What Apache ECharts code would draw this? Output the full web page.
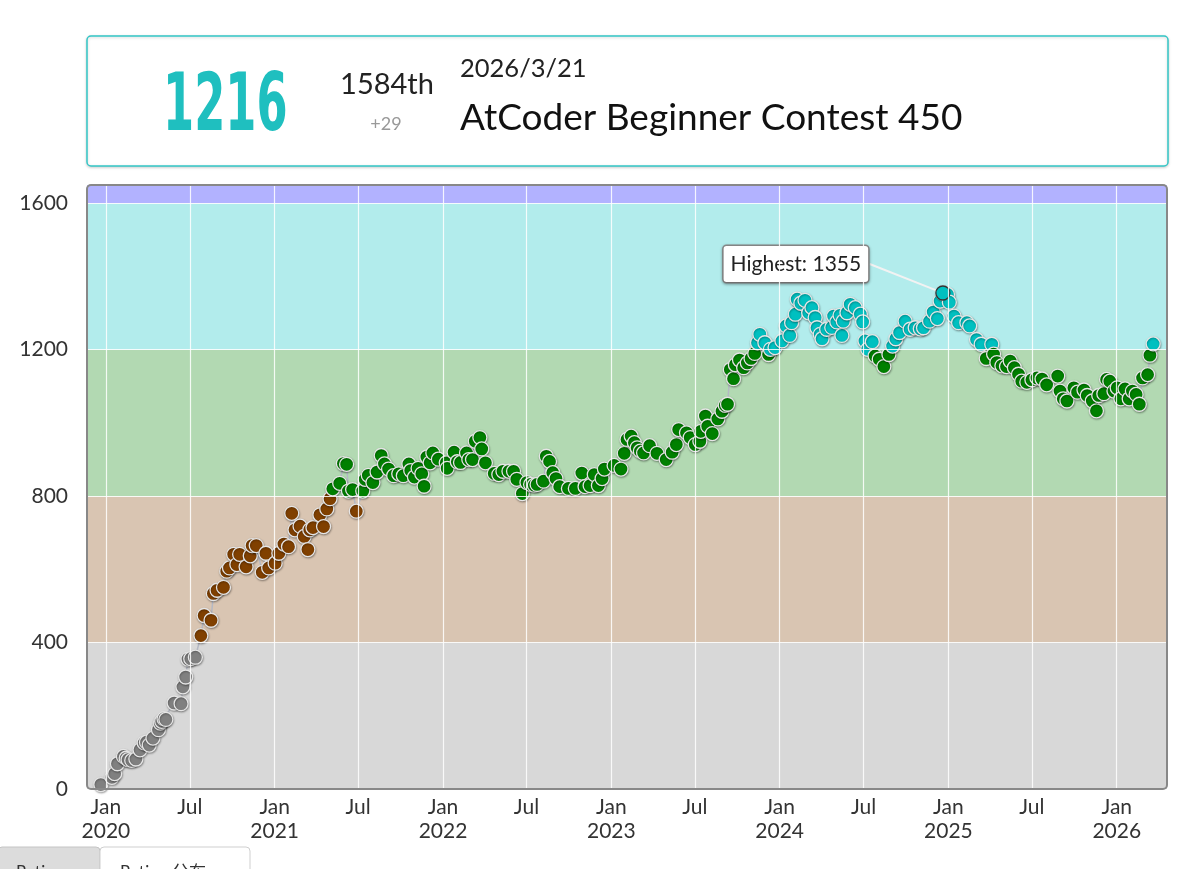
<!DOCTYPE html>
<html><head><meta charset="utf-8">
<script src="https://cdn.jsdelivr.net/npm/echarts@6/dist/echarts.min.js"></script>
<style>html,body{margin:0;padding:0;background:#fff;}#c{width:1200px;height:869px;}</style>
</head><body><div id="c"></div>
<script>
// ---- data ----
const contestDates = [
'2019-12-21','2020-01-14','2020-01-20','2020-01-26','2020-02-08','2020-02-14','2020-02-18','2020-02-26','2020-03-06','2020-03-15',
'2020-03-24','2020-03-29','2020-04-04','2020-04-12','2020-04-24','2020-04-28','2020-05-01','2020-05-06','2020-05-10','2020-05-28',
'2020-06-12','2020-06-16','2020-06-22','2020-06-27','2020-07-03','2020-07-13','2020-07-25','2020-08-01','2020-08-16','2020-08-21',
'2020-08-29','2020-09-12','2020-09-19','2020-09-25','2020-10-04','2020-10-11','2020-10-17','2020-10-31','2020-11-09','2020-11-13',
'2020-11-22','2020-12-05','2020-12-13','2020-12-19','2021-01-02','2021-01-10','2021-01-21','2021-01-31','2021-02-07','2021-02-14',
'2021-02-25','2021-03-06','2021-03-14','2021-03-18','2021-03-25','2021-04-09','2021-04-17','2021-04-24','2021-05-01','2021-05-07',
'2021-05-22','2021-05-30','2021-06-06','2021-06-10','2021-06-19','2021-06-27','2021-07-11','2021-07-16','2021-07-23','2021-08-02',
'2021-08-11','2021-08-20','2021-08-27','2021-09-05','2021-09-16','2021-09-27','2021-10-07','2021-10-19','2021-10-23','2021-10-31',
'2021-11-08','2021-11-16','2021-11-21','2021-11-27','2021-12-04','2021-12-10','2021-12-22','2022-01-08','2022-01-10','2022-01-25',
'2022-02-01','2022-02-08','2022-02-21','2022-02-26','2022-03-06','2022-03-12','2022-03-22','2022-03-26','2022-04-03','2022-04-22',
'2022-05-02','2022-05-11','2022-05-24','2022-06-03','2022-06-10','2022-06-22','2022-07-02','2022-07-10','2022-07-18','2022-07-24',
'2022-08-07','2022-08-13','2022-08-20','2022-08-27','2022-09-03','2022-09-11','2022-09-30','2022-10-15','2022-10-29','2022-11-05',
'2022-11-16','2022-11-25','2022-12-04','2022-12-12','2022-12-17','2023-01-07','2023-01-22','2023-01-29','2023-02-04','2023-02-13',
'2023-02-20','2023-02-26','2023-03-05','2023-03-12','2023-03-25','2023-04-10','2023-04-30','2023-05-13','2023-05-22','2023-05-27',
'2023-06-13','2023-06-21','2023-07-02','2023-07-12','2023-07-14','2023-07-24','2023-07-29','2023-08-08','2023-08-20','2023-08-29',
'2023-09-05','2023-09-10','2023-09-16','2023-09-23','2023-09-27','2023-10-06','2023-10-15','2023-10-23','2023-10-31','2023-11-08',
'2023-11-14','2023-11-19','2023-11-30','2023-12-08','2023-12-12','2023-12-22','2024-01-06','2024-01-15','2024-01-23','2024-01-27',
'2024-02-04','2024-02-08','2024-02-16','2024-02-25','2024-03-04','2024-03-11','2024-03-18','2024-03-22','2024-03-29','2024-04-02',
'2024-04-12','2024-04-23','2024-04-27','2024-05-04','2024-05-11','2024-05-15','2024-05-18','2024-05-26','2024-06-02','2024-06-13',
'2024-06-24','2024-06-29','2024-07-04','2024-07-10','2024-07-20','2024-07-26','2024-08-04','2024-08-14','2024-08-25','2024-09-02',
'2024-09-09','2024-09-17','2024-09-29','2024-10-10','2024-10-21','2024-11-01','2024-11-08','2024-11-21','2024-11-29','2024-12-08',
'2024-12-14','2024-12-20','2024-12-30','2025-01-03','2025-01-13','2025-01-23','2025-02-10','2025-02-16','2025-03-03','2025-03-13',
'2025-03-24','2025-04-05','2025-04-09','2025-04-16','2025-04-27','2025-05-07','2025-05-15','2025-05-24','2025-06-02','2025-06-09',
'2025-06-20','2025-07-01','2025-07-12','2025-07-23','2025-08-02','2025-08-26','2025-08-31','2025-09-07','2025-09-15','2025-09-30',
'2025-10-08','2025-10-22','2025-10-29','2025-11-09','2025-11-18','2025-11-23','2025-12-04','2025-12-10','2025-12-17','2025-12-26',
'2026-01-02','2026-01-10','2026-01-19','2026-01-28','2026-02-04','2026-02-12','2026-02-19','2026-02-26','2026-03-09','2026-03-14',
'2026-03-21'];
const ratings = [
12,32,42,69,89,84,80,78,82,107,
126,128,120,139,162,180,185,192,190,235,
233,279,306,355,356,360,419,474,461,534,
543,551,595,604,641,613,641,607,637,665,
665,592,644,604,617,644,669,662,753,708,
718,690,654,708,714,749,717,765,793,820,
835,889,887,814,818,759,814,846,857,837,
866,911,888,874,856,861,856,888,870,852,
876,861,827,907,891,918,901,891,876,920,
894,892,918,900,900,950,960,929,891,862,
859,868,868,868,846,807,837,832,830,832,
841,909,895,864,848,826,821,821,863,826,
829,859,829,848,874,884,874,917,955,964,
946,932,923,918,938,917,900,920,941,982,
973,960,941,950,977,1019,991,971,1011,1032,
1048,1051,1146,1121,1159,1172,1151,1164,1176,1190,
1219,1242,1219,1187,1201,1206,1224,1265,1239,1274,
1297,1338,1327,1335,1301,1315,1288,1260,1242,1230,
1256,1261,1292,1276,1294,1239,1278,1301,1324,1315,
1297,1276,1224,1201,1222,1183,1174,1154,1187,1210,
1230,1247,1278,1256,1260,1257,1260,1278,1303,1285,
1333,1355,1351,1330,1292,1274,1274,1265,1228,1215,
1176,1215,1188,1165,1156,1154,1169,1151,1133,1114,
1111,1118,1123,1120,1104,1128,1087,1066,1060,1096,
1084,1090,1075,1060,1033,1075,1080,1119,1114,1087,
1096,1066,1093,1066,1087,1078,1051,1123,1132,1185,
1216];
const highestDate = '2024-12-20';
const highestRating = 1355;
const tickDates = ['2020-01-01','2020-07-01','2021-01-01','2021-07-01','2022-01-01','2022-07-01','2023-01-01','2023-07-01','2024-01-01','2024-07-01','2025-01-01','2025-07-01','2026-01-01'];
const tickLabels = ['Jan\n2020','Jul','Jan\n2021','Jul','Jan\n2022','Jul','Jan\n2023','Jul','Jan\n2024','Jul','Jan\n2025','Jul','Jan\n2026'];
const yTicks = [0,400,800,1200,1600];
const rankBounds = [0,400,800,1200,1600,2000];
const rankBandColors = ['#D8D8D8','#D9C5B2','#B2D9B2','#B2ECEC','#B2B2FF'];
const rankDotColors = ['#808080','#804000','#008000','#00C0C0','#0000FF'];

// ---- build ----
const FONT = 'Lato, "Noto Sans", sans-serif';
const ts = d => Date.parse(d + 'T00:00:00Z');
const tickTs = tickDates.map(ts);
const colorFor = r => { for (let i = rankBounds.length - 2; i >= 0; i--) if (r >= rankBounds[i]) return rankDotColors[i]; return rankDotColors[0]; };
const pts = contestDates.map((d, i) => [ts(d), ratings[i]]);
const dotData = pts.map(p => ({ value: p, itemStyle: { color: colorFor(p[1]) } }));

const bands = [];
for (let i = 0; i < rankBandColors.length; i++) {
  bands.push([{ yAxis: rankBounds[i], itemStyle: { color: rankBandColors[i] } }, { yAxis: Math.min(rankBounds[i + 1], 1650) }]);
}
const gridLines = tickTs.map(t => ({ xAxis: t }))
  .concat(yTicks.slice(1).map(v => ({ yAxis: v })));

const chart = echarts.init(document.getElementById('c'), null, { renderer: 'canvas' });
chart.setOption({
  animation: false,
  textStyle: { fontFamily: FONT },
  grid: { left: 87, top: 185, width: 1080, height: 604, show: false },
  xAxis: {
    type: 'value', min: ts('2019-11-21'), max: ts('2026-04-20'),
    axisLine: { show: false }, axisTick: { show: false }, splitLine: { show: false },
    axisLabel: {
      customValues: tickTs,
      formatter: v => { const i = tickTs.indexOf(v); return i >= 0 ? tickLabels[i] : ''; },
      color: '#333', fontSize: 21, lineHeight: 24, margin: 6, fontFamily: FONT,
      showMinLabel: true, showMaxLabel: true
    }
  },
  yAxis: {
    type: 'value', min: 0, max: 1650, interval: 400,
    axisLine: { show: false }, axisTick: { show: false }, splitLine: { show: false },
    axisLabel: {
      customValues: yTicks,
      formatter: v => (yTicks.indexOf(v) >= 0 ? String(v) : ''),
      color: '#333', fontSize: 21, margin: 19, fontFamily: FONT
    }
  },
  series: [
    { type: 'line', data: [], z: 0, silent: true,
      markArea: { silent: true, data: bands } },
    { type: 'line', data: [], z: 1, silent: true,
      markLine: { silent: true, symbol: ['none', 'none'], label: { show: false },
        lineStyle: { color: 'rgba(255,255,255,0.85)', width: 1.2, type: 'solid' }, data: gridLines } },
    { type: 'line', data: pts, z: 2, showSymbol: false, silent: true,
      lineStyle: { color: '#b4b8c4', width: 1.5 } },
    { type: 'scatter', data: dotData, z: 3, symbolSize: 14,
      itemStyle: { opacity: 1, borderColor: '#e6e6e6', borderWidth: 1.3, shadowBlur: 2, shadowColor: 'rgba(0,0,0,0.35)', shadowOffsetX: 0.5, shadowOffsetY: 1 } },
    { type: 'scatter', z: 4, symbolSize: 14,
      data: [{ value: [ts(highestDate), highestRating], itemStyle: { color: colorFor(highestRating) } }],
      itemStyle: { opacity: 1, borderColor: '#333', borderWidth: 1.3 },
      label: { show: true, position: 'inside', formatter: 'Highest: ' + highestRating,
        color: '#222', fontSize: 21, fontFamily: FONT, backgroundColor: '#fff',
        borderColor: '#8a8a8a', borderWidth: 1.5, borderRadius: 3, padding: [8, 7, 7, 7],
        shadowBlur: 3, shadowColor: 'rgba(0,0,0,0.3)', shadowOffsetY: 1 },
      labelLayout: { dx: -147, dy: -29 },
      labelLine: { show: true, lineStyle: { color: '#f2f2f2', width: 2 } } }
  ],
  graphic: [
    { type: 'rect', z: 100, silent: true, shape: { x: 87, y: 185, width: 1080, height: 604, r: 4 },
      style: { fill: 'none', stroke: '#888', lineWidth: 2 } },
    { type: 'rect', z: 10, silent: true, shape: { x: 87, y: 36, width: 1081, height: 130, r: 4 },
      style: { fill: '#fff', stroke: '#33c6c6', lineWidth: 1.5, shadowBlur: 3, shadowColor: 'rgba(0,0,0,0.18)', shadowOffsetY: 1 } },
    { type: 'text', z: 11, x: 163, y: 109, scaleX: 0.56, silent: true,
      style: { text: '1216', x: 0, y: 0, font: 'bold 80px "DejaVu Sans"', fill: '#1fbfbf', verticalAlign: 'middle', align: 'left' } },
    { type: 'text', z: 11, x: 387, y: 85, silent: true,
      style: { text: '1584th', font: '29px ' + FONT, fill: '#222', align: 'center', verticalAlign: 'middle' } },
    { type: 'text', z: 11, x: 386, y: 124, silent: true,
      style: { text: '+29', font: '18px ' + FONT, fill: '#999', align: 'center', verticalAlign: 'middle' } },
    { type: 'text', z: 11, x: 460, y: 69, silent: true,
      style: { text: '2026/3/21', font: '25.5px ' + FONT, fill: '#222', align: 'left', verticalAlign: 'middle' } },
    { type: 'text', z: 11, x: 460, y: 118, silent: true,
      style: { text: 'AtCoder Beginner Contest 450', font: '37px ' + FONT, fill: '#111', align: 'left', verticalAlign: 'middle' } },
    { type: 'rect', z: 10, silent: true, shape: { x: -2, y: 847, width: 102, height: 40, r: [4, 4, 0, 0] },
      style: { fill: '#dcdcdc', stroke: '#c4c4c4', lineWidth: 1 } },
    { type: 'rect', z: 10, silent: true, shape: { x: 100, y: 847, width: 150, height: 40, r: [4, 4, 0, 0] },
      style: { fill: '#fff', stroke: '#cfcfcf', lineWidth: 1 } },
    { type: 'text', z: 11, x: 16, y: 864, silent: true,
      style: { text: 'Rating', font: '17px ' + FONT, fill: '#333', align: 'left', verticalAlign: 'top' } },
    { type: 'text', z: 11, x: 120, y: 864, silent: true,
      style: { text: 'Rating 分布', font: '17px Lato, "Noto Sans CJK JP", sans-serif', fill: '#333', align: 'left', verticalAlign: 'top' } }
  ]
});
</script></body></html>
